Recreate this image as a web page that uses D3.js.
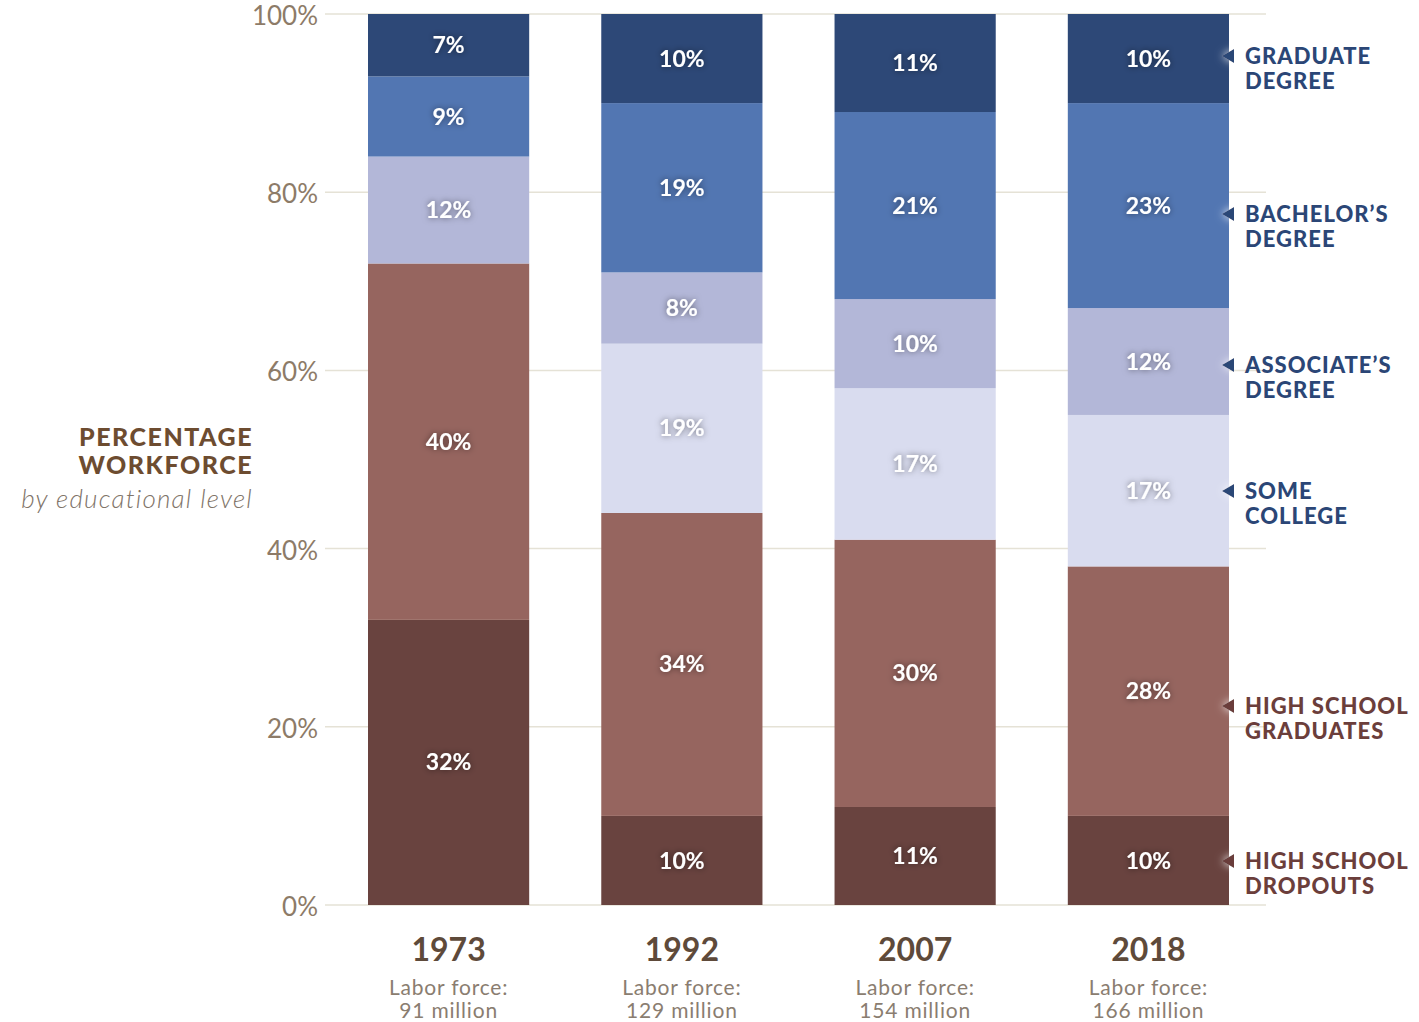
<!DOCTYPE html>
<html lang="en">
<head>
<meta charset="utf-8">
<title>Percentage workforce by educational level</title>
<script src="https://cdn.jsdelivr.net/npm/d3@7"></script>
<style>
  body { margin: 0; background: #fff; }
  text { font-family: Lato, "Open Sans", sans-serif; }
</style>
</head>
<body>
<script>
// data
var years = ["1973", "1992", "2007", "2018"];
var laborForce = ["91 million", "129 million", "154 million", "166 million"];
var levels = ["dropout", "hsgrad", "somecollege", "associate", "bachelor", "graduate"];
var levelNames = [
  ["HIGH SCHOOL", "DROPOUTS"],
  ["HIGH SCHOOL", "GRADUATES"],
  ["SOME", "COLLEGE"],
  ["ASSOCIATE\u2019S", "DEGREE"],
  ["BACHELOR\u2019S", "DEGREE"],
  ["GRADUATE", "DEGREE"]
];
var dropout     = [32, 10, 11, 10];
var hsgrad      = [40, 34, 30, 28];
var somecollege = [0, 19, 17, 17];
var associate   = [12, 8, 10, 12];
var bachelor    = [9, 19, 21, 23];
var graduate    = [7, 10, 11, 10];
var yTicks = [0, 20, 40, 60, 80, 100];

var colors = ["#69433f", "#96655f", "#d9dcef", "#b3b7d8", "#5276b2", "#2d4877"];
var legendColors = ["#6b3e3b", "#6b3e3b", "#2b4676", "#2b4676", "#2b4676", "#2b4676"];

var series = [dropout, hsgrad, somecollege, associate, bachelor, graduate];
var table = years.map(function(y, i) {
  var row = { year: y };
  levels.forEach(function(k, j) { row[k] = series[j][i]; });
  return row;
});

var W = 1419, H = 1022;
var svg = d3.select("body").append("svg").attr("width", W).attr("height", H);

var defs = svg.append("defs");
var f = defs.append("filter").attr("id", "glow").attr("x", "-50%").attr("y", "-50%").attr("width", "200%").attr("height", "200%");
f.append("feDropShadow").attr("dx", 0).attr("dy", 0).attr("stdDeviation", 3)
  .attr("flood-color", "#000").attr("flood-opacity", 0.5);
// white halo behind the legend pointers
var g2 = defs.append("filter").attr("id", "halo").attr("x", "-100%").attr("y", "-100%").attr("width", "300%").attr("height", "300%");
g2.append("feDropShadow").attr("dx", 0).attr("dy", 0).attr("stdDeviation", 4)
  .attr("flood-color", "#fff").attr("flood-opacity", 0.9);

var y = d3.scaleLinear().domain([0, 100]).range([905, 14]);
var x = d3.scaleBand().domain(years).range([368, 1229]).paddingInner(0.309).paddingOuter(0);

// gridlines
svg.append("g").selectAll("line").data(yTicks).join("line")
  .attr("x1", 325).attr("x2", 1266)
  .attr("y1", function(d) { return y(d); }).attr("y2", function(d) { return y(d); })
  .attr("stroke", "#e5e2d6").attr("stroke-width", 1.5);

// y tick labels
svg.append("g").selectAll("text").data(yTicks).join("text")
  .attr("x", 318).attr("y", function(d) { return y(d); })
  .attr("dy", "0.42em").attr("text-anchor", "end")
  .attr("font-size", 26).attr("font-weight", 400).attr("fill", "#8d7b68")
  .text(function(d) { return d + "%"; });

var stack = d3.stack().keys(levels)(table);

var groups = svg.append("g").selectAll("g").data(stack).join("g")
  .attr("fill", function(d, i) { return colors[i]; });

groups.selectAll("rect").data(function(d) { return d; }).join("rect")
  .attr("x", function(d) { return x(d.data.year); })
  .attr("width", x.bandwidth())
  .attr("y", function(d) { return y(d[1]); })
  .attr("height", function(d) { return y(d[0]) - y(d[1]); });

// value labels
var labels = svg.append("g").attr("filter", "url(#glow)");
stack.forEach(function(s) {
  s.forEach(function(d) {
    var v = d[1] - d[0];
    if (v <= 0) return;
    labels.append("text")
      .attr("x", x(d.data.year) + x.bandwidth() / 2)
      .attr("y", y((d[0] + d[1]) / 2))
      .attr("dy", "0.35em").attr("text-anchor", "middle")
      .attr("font-size", 23).attr("font-weight", 700).attr("fill", "#fff")
      .text(v + "%");
  });
});

// x labels
var xl = svg.append("g").selectAll("g").data(years).join("g")
  .attr("transform", function(d) { return "translate(" + (x(d) + x.bandwidth() / 2) + ",0)"; });
xl.append("text").attr("y", 961).attr("text-anchor", "middle")
  .attr("font-size", 32).attr("font-weight", 700).attr("fill", "#5e4a3a")
  .text(function(d) { return d; });
xl.append("text").attr("y", 995).attr("text-anchor", "middle")
  .attr("font-size", 21).attr("letter-spacing", 0.8).attr("fill", "#8a7d70").text("Labor force:");
xl.append("text").attr("y", 1018).attr("text-anchor", "middle")
  .attr("font-size", 21).attr("letter-spacing", 0.8).attr("fill", "#8a7d70")
  .text(function(d, i) { return laborForce[i]; });

// legend on right, next to the last bar
var legendY = [861, 706, 491, 365, 214, 56];
var lx = x(years[3]) + x.bandwidth();
var leg = svg.append("g").selectAll("g").data(levelNames).join("g")
  .attr("transform", function(d, i) { return "translate(" + lx + "," + legendY[i] + ")"; });
leg.append("path").attr("d", "M-7,0 L5,-7 L5,7 Z")
  .attr("filter", "url(#halo)")
  .attr("fill", function(d, i) { return legendColors[i]; });
leg.append("text").attr("x", 16).attr("y", 0).attr("dy", "0.35em")
  .attr("font-size", 22).attr("font-weight", 900).attr("letter-spacing", 1)
  .attr("fill", function(d, i) { return legendColors[i]; })
  .text(function(d) { return d[0]; });
leg.append("text").attr("x", 16).attr("y", 25).attr("dy", "0.35em")
  .attr("font-size", 22).attr("font-weight", 900).attr("letter-spacing", 1)
  .attr("fill", function(d, i) { return legendColors[i]; })
  .text(function(d) { return d[1]; });

// axis title
var t = svg.append("g");
t.append("text").attr("x", 253).attr("y", 446).attr("text-anchor", "end")
  .attr("font-size", 25).attr("font-weight", 900).attr("letter-spacing", 1.5).attr("fill", "#6d4c30").text("PERCENTAGE");
t.append("text").attr("x", 253).attr("y", 474).attr("text-anchor", "end")
  .attr("font-size", 25).attr("font-weight", 900).attr("letter-spacing", 1.5).attr("fill", "#6d4c30").text("WORKFORCE");
t.append("text").attr("x", 253).attr("y", 508).attr("text-anchor", "end")
  .attr("font-size", 26).attr("font-weight", 300).attr("font-style", "italic").attr("letter-spacing", 1.2)
  .attr("fill", "#7f7469").text("by educational level");
</script>
</body>
</html>
